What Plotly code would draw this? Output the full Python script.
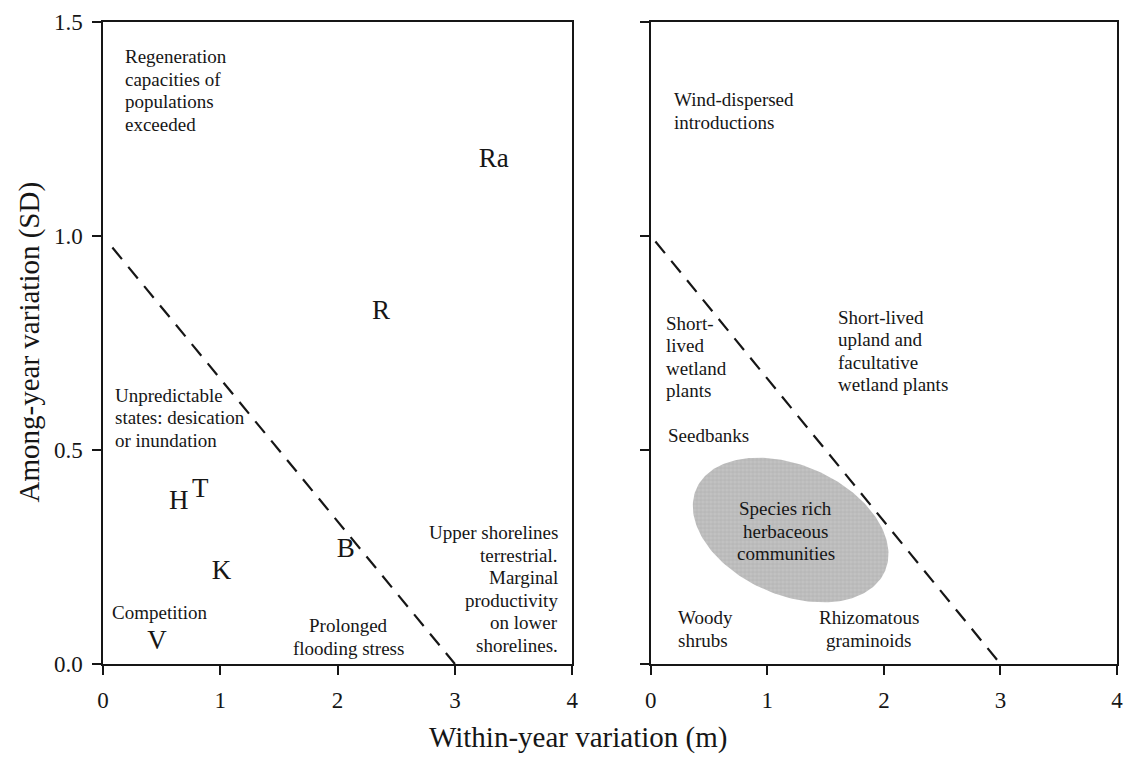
import numpy as np
import plotly.graph_objects as go

# ---------------- data ----------------
x_ticks = [0, 1, 2, 3, 4]
y_ticks = [0.0, 0.5, 1.0, 1.5]
y_tick_labels = ["0.0", "0.5", "1.0", "1.5"]

# dashed boundary (one per panel)
left_line_x = [0.08, 3.0]
left_line_y = [0.973, 0.0]
right_line_x = [0.04, 3.0]
right_line_y = [0.987, 0.0]

# site letters (left panel)
site_labels = ["Ra", "R", "H", "T", "K", "B", "V"]
site_x = [3.33, 2.37, 0.645, 0.83, 1.01, 2.07, 0.46]
site_y = [1.178, 0.822, 0.378, 0.406, 0.215, 0.266, 0.051]

# left panel text blocks
left_texts = [
    "Regeneration\ncapacities of\npopulations\nexceeded",
    "Unpredictable\nstates: desication\nor inundation",
    "Competition",
    "Prolonged\nflooding stress",
    "Upper shorelines\nterrestrial.\nMarginal\nproductivity\non lower\nshorelines.",
]
left_text_x = [0.17, 0.085, 0.49, 2.09, 3.90]
left_text_y = [1.340, 0.575, 0.121, 0.063, 0.175]
left_text_anchor = ["left", "left", "center", "center", "right"]

# right panel text blocks
right_texts = [
    "Wind-dispersed\nintroductions",
    "Short-\nlived\nwetland\nplants",
    "Short-lived\nupland and\nfacultative\nwetland plants",
    "Seedbanks",
    "Species rich\nherbaceous\ncommunities",
    "Woody\nshrubs",
    "Rhizomatous\ngraminoids",
]
right_text_x = [0.18, 0.11, 1.59, 0.13, 1.16, 0.22, 1.87]
right_text_y = [1.292, 0.717, 0.731, 0.535, 0.310, 0.082, 0.082]
right_text_anchor = ["left", "left", "left", "left", "center", "left", "center"]

# shaded region (ellipse) in right panel
ell_center_x = 1.2
ell_center_y = 0.313
ell_semi_major_px = 104
ell_semi_minor_px = 65
ell_angle_deg = 23

# ---------------- layout constants ----------------
W, H = 1131, 760
ML, MR, MT, MB = 103, 8, 22, 96
plot_w = W - ML - MR
plot_h = H - MT - MB
left_dom = [0, (575 - ML) / plot_w]
right_dom = [(654 - ML) / plot_w, 1]
px_per_x = (left_dom[1] - left_dom[0]) * plot_w / 4.0
px_per_y = plot_h / 1.5

SERIF = "Liberation Serif, Times New Roman, serif"
INK = "#161616"
TEXT_SIZE = 19
LINE_PX = 22.5

fig = go.Figure()

# ellipse (stippled grey)
t = np.linspace(0, 2 * np.pi, 200)
th = np.deg2rad(ell_angle_deg)
pxx = ell_semi_major_px * np.cos(t) * np.cos(th) - ell_semi_minor_px * np.sin(t) * np.sin(th)
pyy = ell_semi_major_px * np.cos(t) * np.sin(th) + ell_semi_minor_px * np.sin(t) * np.cos(th)
fig.add_trace(go.Scatter(
    x=ell_center_x + pxx / px_per_x,
    y=ell_center_y - pyy / px_per_y,
    xaxis="x2", yaxis="y2", mode="lines", fill="toself",
    fillcolor="#bababa",
    fillpattern=dict(shape="+", bgcolor="#c2c2c2", fgcolor="#a2a2a2",
                     size=4, solidity=0.35),
    line=dict(width=0, color="#b6b6b6"),
    hoverinfo="skip", showlegend=False,
))

# dashed lines
for lx, ly, xa, ya in [(left_line_x, left_line_y, "x", "y"),
                       (right_line_x, right_line_y, "x2", "y2")]:
    fig.add_trace(go.Scatter(x=lx, y=ly, xaxis=xa, yaxis=ya, mode="lines",
                             line=dict(color=INK, width=2.2, dash="15px,10px"),
                             showlegend=False, hoverinfo="skip"))

# site letters
fig.add_trace(go.Scatter(x=site_x, y=site_y, xaxis="x", yaxis="y", mode="text",
                         text=site_labels, textposition="middle center",
                         textfont=dict(family=SERIF, size=27, color=INK),
                         showlegend=False, hoverinfo="skip"))

annotations = []


def add_block(txt, x, y, anc, xref, yref):
    lines = txt.split("\n")
    n = len(lines)
    for i, ln in enumerate(lines):
        annotations.append(dict(text=ln, x=x, y=y, xref=xref, yref=yref,
                                xanchor=anc, yanchor="middle", align=anc,
                                yshift=((n - 1) / 2 - i) * LINE_PX, showarrow=False,
                                font=dict(family=SERIF, size=TEXT_SIZE, color=INK)))


for txt, x, y, anc in zip(left_texts, left_text_x, left_text_y, left_text_anchor):
    add_block(txt, x, y, anc, "x", "y")
for txt, x, y, anc in zip(right_texts, right_text_x, right_text_y, right_text_anchor):
    add_block(txt, x, y, anc, "x2", "y2")

# axis titles
annotations.append(dict(text="Among-year variation (SD)", xref="paper", yref="paper",
                        x=(29 - ML) / plot_w, y=(664 - 342) / plot_h, textangle=-90,
                        xanchor="center", yanchor="middle", showarrow=False,
                        font=dict(family=SERIF, size=29, color=INK)))
annotations.append(dict(text="Within-year variation (m)", xref="paper", yref="paper",
                        x=(581 - ML) / plot_w, y=(664 - 737) / plot_h,
                        xanchor="center", yanchor="middle", showarrow=False,
                        font=dict(family=SERIF, size=29, color=INK)))

axis_common = dict(showgrid=False, zeroline=False, showline=True, linecolor=INK,
                   linewidth=1.5, mirror=True, ticks="outside", ticklen=9,
                   tickwidth=1.5, tickcolor=INK,
                   tickfont=dict(family=SERIF, size=23, color=INK))

fig.update_layout(
    width=W, height=H,
    margin=dict(l=ML, r=MR, t=MT, b=MB),
    paper_bgcolor="white", plot_bgcolor="white",
    showlegend=False,
    xaxis=dict(domain=left_dom, range=[0, 4], tickvals=x_ticks, anchor="y",
               ticklabelstandoff=6, **axis_common),
    yaxis=dict(domain=[0, 1], range=[0, 1.5], tickvals=y_ticks, ticktext=y_tick_labels,
               anchor="x", ticklabelstandoff=5, **axis_common),
    xaxis2=dict(domain=right_dom, range=[0, 4], tickvals=x_ticks, anchor="y2",
                ticklabelstandoff=6, **axis_common),
    yaxis2=dict(domain=[0, 1], range=[0, 1.5], tickvals=y_ticks, anchor="x2",
                showticklabels=False, **axis_common),
    annotations=annotations,
)

fig.write_html("out.html")
